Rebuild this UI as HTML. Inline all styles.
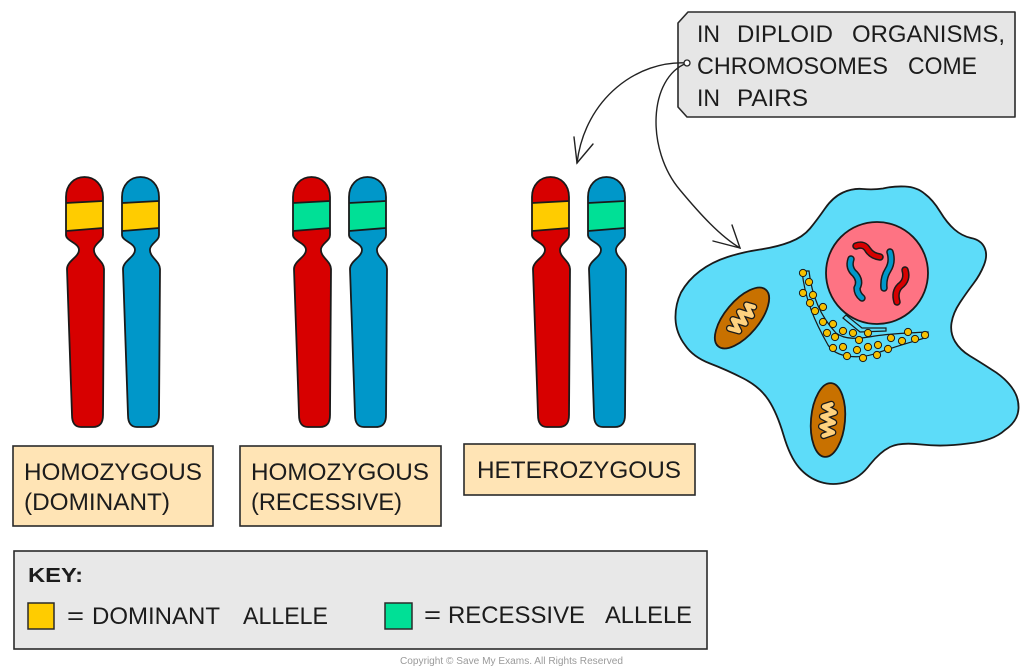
<!DOCTYPE html>
<html><head><meta charset="utf-8"><style>
html,body{margin:0;padding:0;background:#fff;width:1024px;height:672px;overflow:hidden}
svg{display:block}
text{font-family:"Liberation Sans",sans-serif;fill:#1c1c1c}
</style></head><body>
<svg width="1024" height="672" viewBox="0 0 1024 672" xmlns="http://www.w3.org/2000/svg">
<defs>
<path id="chr" d="M0,20 C0,8 8,0 18.5,0 C29,0 37,8 37,20 L37,58 C37,64 29,66 28,72 C27,80 38,84 38,92 L37,238 C37,246 34,250 27,250 L15,250 C9,250 6,246 6,238 L1,92 C1,84 13,80 13,73 C13,66 0,64 0,58 Z"/>
<path id="crista" d="M-16,-3 L-12,6 L-7,-6 L-2,6 L3,-6 L8,6 L13,-5 L16,2"/>
</defs>

<!-- Chromosome pairs -->
<g stroke="#1a1a1a" stroke-width="1.8" stroke-linejoin="round">
  <g transform="translate(66,177)">
    <use href="#chr" fill="#d70000" stroke="none"/>
    <path d="M0,26 L37,24 L37,51 L0,54 Z" fill="#ffcc00" stroke="none"/>
    <path d="M0,26 L37,24 M0,54 L37,51" fill="none"/>
    <use href="#chr" fill="none"/>
  </g>
  <g transform="translate(122,177)">
    <use href="#chr" fill="#0097c9" stroke="none"/>
    <path d="M0,26 L37,24 L37,51 L0,54 Z" fill="#ffcc00" stroke="none"/>
    <path d="M0,26 L37,24 M0,54 L37,51" fill="none"/>
    <use href="#chr" fill="none"/>
  </g>
  <g transform="translate(293,177)">
    <use href="#chr" fill="#d70000" stroke="none"/>
    <path d="M0,26 L37,24 L37,51 L0,54 Z" fill="#00e096" stroke="none"/>
    <path d="M0,26 L37,24 M0,54 L37,51" fill="none"/>
    <use href="#chr" fill="none"/>
  </g>
  <g transform="translate(349,177)">
    <use href="#chr" fill="#0097c9" stroke="none"/>
    <path d="M0,26 L37,24 L37,51 L0,54 Z" fill="#00e096" stroke="none"/>
    <path d="M0,26 L37,24 M0,54 L37,51" fill="none"/>
    <use href="#chr" fill="none"/>
  </g>
  <g transform="translate(532,177)">
    <use href="#chr" fill="#d70000" stroke="none"/>
    <path d="M0,26 L37,24 L37,51 L0,54 Z" fill="#ffcc00" stroke="none"/>
    <path d="M0,26 L37,24 M0,54 L37,51" fill="none"/>
    <use href="#chr" fill="none"/>
  </g>
  <g transform="translate(588,177)">
    <use href="#chr" fill="#0097c9" stroke="none"/>
    <path d="M0,26 L37,24 L37,51 L0,54 Z" fill="#00e096" stroke="none"/>
    <path d="M0,26 L37,24 M0,54 L37,51" fill="none"/>
    <use href="#chr" fill="none"/>
  </g>
</g>

<!-- Label boxes -->
<g stroke="#2a2a2a" stroke-width="1.6" fill="#ffe4b5">
  <rect x="13" y="446" width="200" height="80"/>
  <rect x="240" y="446" width="201" height="80"/>
  <rect x="464" y="444" width="231" height="51"/>
</g>
<text x="24" y="480" font-size="24" textLength="178" lengthAdjust="spacingAndGlyphs">HOMOZYGOUS</text>
<text x="24" y="510" font-size="24" textLength="146" lengthAdjust="spacingAndGlyphs">(DOMINANT)</text>
<text x="251" y="480" font-size="24" textLength="178" lengthAdjust="spacingAndGlyphs">HOMOZYGOUS</text>
<text x="251" y="510" font-size="24" textLength="151" lengthAdjust="spacingAndGlyphs">(RECESSIVE)</text>
<text x="477" y="478" font-size="24" textLength="204" lengthAdjust="spacingAndGlyphs">HETEROZYGOUS</text>

<!-- Key box -->
<rect x="14" y="551" width="693" height="98" fill="#e8e8e8" stroke="#2a2a2a" stroke-width="1.6"/>
<text x="28" y="582" font-size="20" font-weight="bold" textLength="55" lengthAdjust="spacingAndGlyphs">KEY:</text>
<rect x="28" y="603" width="26" height="26" fill="#ffcc00" stroke="#2a2a2a" stroke-width="1.5"/>
<text x="67" y="624" font-size="24" textLength="17" lengthAdjust="spacingAndGlyphs">=</text>
<text x="92" y="624" font-size="24" textLength="128" lengthAdjust="spacingAndGlyphs">DOMINANT</text>
<text x="243" y="624" font-size="24" textLength="85" lengthAdjust="spacingAndGlyphs">ALLELE</text>
<rect x="385" y="603" width="27" height="26" fill="#00e096" stroke="#2a2a2a" stroke-width="1.5"/>
<text x="424" y="623" font-size="24" textLength="17" lengthAdjust="spacingAndGlyphs">=</text>
<text x="448" y="623" font-size="24" textLength="137" lengthAdjust="spacingAndGlyphs">RECESSIVE</text>
<text x="605" y="623" font-size="24" textLength="87" lengthAdjust="spacingAndGlyphs">ALLELE</text>

<!-- Copyright -->
<text x="400" y="664" font-size="10" style="fill:#9a9a9a" textLength="223" lengthAdjust="spacingAndGlyphs">Copyright © Save My Exams. All Rights Reserved</text>

<!-- Callout -->
<path d="M688,12 L1015,12 L1015,117 L687,117 L678,107 L678,23 Z" fill="#e6e6e6" stroke="#2a2a2a" stroke-width="1.6" stroke-linejoin="round"/>
<text x="697" y="42" font-size="24" textLength="23" lengthAdjust="spacingAndGlyphs">IN</text>
<text x="737" y="42" font-size="24" textLength="96" lengthAdjust="spacingAndGlyphs">DIPLOID</text>
<text x="852" y="42" font-size="24" textLength="153" lengthAdjust="spacingAndGlyphs">ORGANISMS,</text>
<text x="697" y="74" font-size="24" textLength="191" lengthAdjust="spacingAndGlyphs">CHROMOSOMES</text>
<text x="908" y="74" font-size="24" textLength="69" lengthAdjust="spacingAndGlyphs">COME</text>
<text x="697" y="106" font-size="24" textLength="23" lengthAdjust="spacingAndGlyphs">IN</text>
<text x="737" y="106" font-size="24" textLength="71" lengthAdjust="spacingAndGlyphs">PAIRS</text>

<!-- Arrows -->
<g fill="none" stroke="#222" stroke-width="1.4" stroke-linecap="round">
  <path d="M687,63 C638,60 585,98 577,163"/>
  <path d="M574,137 L577,163 L593,144"/>
  <path d="M687,63 C648,78 646,150 680,190 C700,214 720,236 740,248"/>
  <path d="M713,241 L740,248 L732,225"/>
</g>
<circle cx="687" cy="63" r="3" fill="#fff" stroke="#222" stroke-width="1.3"/>

<!-- Cell -->
<path d="M760,249.5 Q777,247 790,242 Q803,237 810,228.5 Q817,220 825,208.5 Q833,197 843,192.5 Q853,188 863,189 Q873,190 883,188.5 Q893,186 905,186.5 Q917,187 925,194 Q933,200 940,211.5 Q947,223 954.5,229.5 Q962,236 971,238 Q981,240 984.5,247.5 Q988,255 984,265 Q980,275 973.5,283.5 Q967,292 960,302.5 Q953,313 951.5,323 Q950,333 955,341.5 Q960,350 970,356 Q980,362 991.5,369.5 Q1004,377 1011.5,387 Q1019,397 1018.5,408.5 Q1018,421 1005,430 Q993,441 968,443.5 Q943,447 921.5,444.5 Q900,442 890,447 Q880,452 870,464.5 Q860,478 846.5,482 Q833,486 820.5,482 Q808,478 799,467.5 Q790,457 783.5,435 Q777,413 768.5,400 Q760,387 743.5,378.5 Q727,370 710,363.5 Q693,357 685,345 Q676,333 675.5,319 Q675,305 681,292.5 Q688,280 700,271 Q712,262 727.5,257 Q743,252 760,249.5 Z" fill="#5ddcf9" stroke="#1a1a1a" stroke-width="1.8"/>

<!-- Nucleus -->
<circle cx="877" cy="273" r="51" fill="#fe7383" stroke="#1a1a1a" stroke-width="1.8"/>
<g fill="none" stroke-linecap="round" stroke-linejoin="round">
  <g stroke="#1a1a1a" stroke-width="7.5">
    <path d="M856,246 Q864,243 868,250 Q872,256 880,257"/>
    <path d="M851,259 Q848,268 855,274 Q861,281 857,288 Q857,294 862,298"/>
    <path d="M890,252 Q893,262 888,270 Q883,278 884,288"/>
    <path d="M905,270 Q908,280 900,286 Q894,292 897,302"/>
  </g>
  <g stroke-width="4.5">
    <path d="M856,246 Q864,243 868,250 Q872,256 880,257" stroke="#d70000"/>
    <path d="M851,259 Q848,268 855,274 Q861,281 857,288 Q857,294 862,298" stroke="#0097c9"/>
    <path d="M890,252 Q893,262 888,270 Q883,278 884,288" stroke="#0097c9"/>
    <path d="M905,270 Q908,280 900,286 Q894,292 897,302" stroke="#d70000"/>
  </g>
</g>

<!-- Mitochondria -->
<g transform="translate(742,318) rotate(-50)">
  <ellipse cx="0" cy="0" rx="37" ry="17" fill="#c87100" stroke="#1a1a1a" stroke-width="1.8"/>
  <use href="#crista" fill="none" stroke="#1a1a1a" stroke-width="7" stroke-linejoin="round" stroke-linecap="round"/>
  <use href="#crista" fill="none" stroke="#ffd27f" stroke-width="4.4" stroke-linejoin="round" stroke-linecap="round"/>
</g>
<g transform="translate(828,420) rotate(-85)">
  <ellipse cx="0" cy="0" rx="37" ry="17" fill="#c87100" stroke="#1a1a1a" stroke-width="1.8"/>
  <use href="#crista" fill="none" stroke="#1a1a1a" stroke-width="7" stroke-linejoin="round" stroke-linecap="round"/>
  <use href="#crista" fill="none" stroke="#ffd27f" stroke-width="4.4" stroke-linejoin="round" stroke-linecap="round"/>
</g>

<!-- ER -->
<g fill="none" stroke="#1a1a1a" stroke-width="1.2">
  <path d="M802,271 C805,300 815,322 828,345 C836,358 860,360 880,352 C900,345 915,341 928,337 L928,332 C910,333 895,333 875,336 C858,339 845,340 836,333 C822,318 812,298 809,271 Z"/>
  <path d="M843,318 L860,332 L886,331 L886,328 L862,328 L846,315 Z"/>
</g>
<g fill="#f5c000" stroke="#1a1a1a" stroke-width="1">
  <circle cx="803" cy="273" r="3.6"/><circle cx="809" cy="282" r="3.6"/>
  <circle cx="803" cy="293" r="3.6"/><circle cx="813" cy="295" r="3.6"/>
  <circle cx="810" cy="303" r="3.6"/><circle cx="823" cy="307" r="3.6"/>
  <circle cx="815" cy="311" r="3.6"/><circle cx="823" cy="322" r="3.6"/>
  <circle cx="833" cy="324" r="3.6"/><circle cx="827" cy="333" r="3.6"/>
  <circle cx="835" cy="337" r="3.6"/><circle cx="843" cy="331" r="3.6"/>
  <circle cx="853" cy="333" r="3.6"/><circle cx="859" cy="340" r="3.6"/>
  <circle cx="868" cy="333" r="3.6"/><circle cx="833" cy="348" r="3.6"/>
  <circle cx="843" cy="347" r="3.6"/><circle cx="847" cy="356" r="3.6"/>
  <circle cx="857" cy="350" r="3.6"/><circle cx="863" cy="358" r="3.6"/>
  <circle cx="868" cy="347" r="3.6"/><circle cx="877" cy="355" r="3.6"/>
  <circle cx="878" cy="345" r="3.6"/><circle cx="888" cy="349" r="3.6"/>
  <circle cx="891" cy="338" r="3.6"/><circle cx="902" cy="341" r="3.6"/>
  <circle cx="908" cy="332" r="3.6"/><circle cx="915" cy="339" r="3.6"/>
  <circle cx="925" cy="335" r="3.6"/>
</g>
</svg>
</body></html>
